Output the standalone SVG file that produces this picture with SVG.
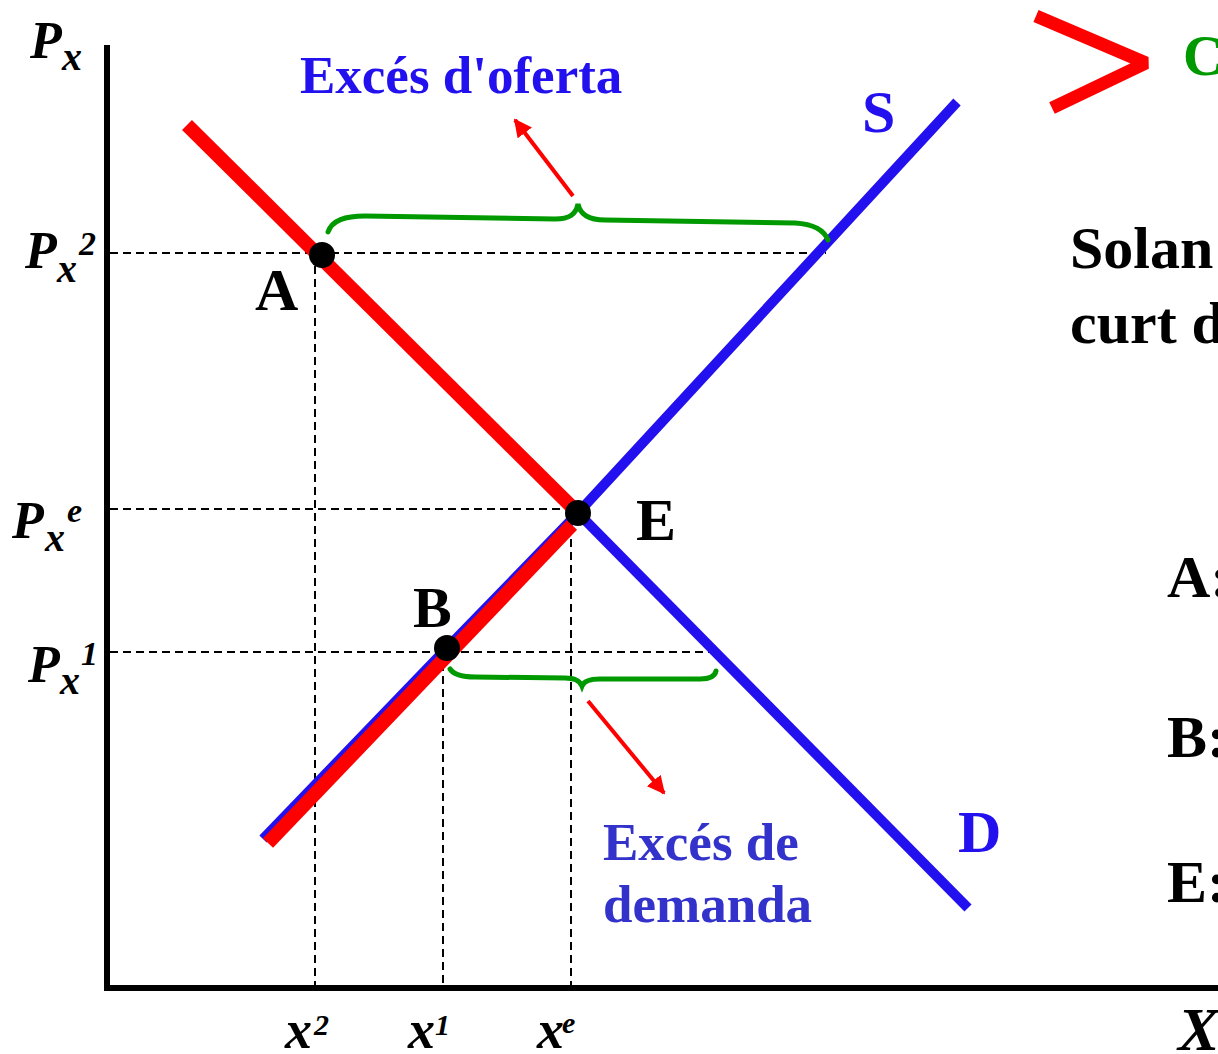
<svg xmlns="http://www.w3.org/2000/svg" width="1218" height="1054" viewBox="0 0 1218 1054">
<style>
.t{font-family:"Liberation Serif","Times New Roman",serif;font-weight:bold}
.i{font-style:italic}
.dash{stroke:#000;stroke-width:2;stroke-dasharray:8 5;fill:none}
.ax{stroke:#000;stroke-width:6;fill:none}
.red{stroke:#ff0000;fill:none}
.blue{stroke:#2211ee;fill:none}
.brace{stroke:#009900;stroke-width:5;fill:none;stroke-linecap:round}
.dot{fill:#000}
</style>
<defs>
<marker id="ah" viewBox="0 0 10 10" refX="9" refY="5" markerWidth="4.5" markerHeight="4.5" orient="auto" markerUnits="strokeWidth">
<path d="M0,0 L10,5 L0,10 Z" fill="#ff0000"/>
</marker>
</defs>
<rect width="1218" height="1054" fill="#fff"/>
<g id="guides">
<line class="dash" x1="110" y1="253" x2="826" y2="253"/>
<line class="dash" x1="110" y1="509" x2="578" y2="509"/>
<line class="dash" x1="110" y1="652" x2="716" y2="652"/>
<line class="dash" x1="315" y1="253" x2="315" y2="985"/>
<line class="dash" x1="443" y1="650" x2="443" y2="985"/>
<line class="dash" x1="571" y1="513" x2="571" y2="985"/>
</g>
<g id="axes">
<line class="ax" x1="107" y1="45" x2="107" y2="991"/>
<line class="ax" x1="104" y1="988" x2="1218" y2="988"/>
</g>
<g id="connectors">
<polyline class="blue" stroke-width="10" points="263,839 447,648 578,513 957,102"/>
<line class="red" stroke-width="14" x1="268" y1="843" x2="572" y2="525"/>
<line class="red" stroke-width="14" x1="187" y1="125" x2="578" y2="513"/>
<line class="blue" stroke-width="10" x1="578" y1="513" x2="968" y2="908"/>
<path class="brace" d="M328,232 C332,220 345,216 365,216 L555,219 C570,219 576,214 578,204 C580,214 588,220 605,220 L795,223 C812,224 824,230 828,240"/>
<path class="brace" d="M450,669 C454,675 462,677 475,677 L565,678 C575,678 580,681 582,686 C584,681 590,679 600,679 L700,679 C710,679 715,676 716,671"/>
<line class="red" stroke-width="4" x1="573" y1="196" x2="515" y2="120" marker-end="url(#ah)"/>
<line class="red" stroke-width="4" x1="588" y1="701" x2="664" y2="793" marker-end="url(#ah)"/>
<polyline class="red" stroke-width="13" stroke-linejoin="bevel" points="1036,16 1146,63 1052,108"/>
</g>
<g id="point-A"><circle class="dot" cx="322" cy="255" r="13"/><text class="t" x="255" y="310" font-size="60">A</text></g>
<g id="point-E"><circle class="dot" cx="578" cy="513" r="13"/><text class="t" x="636" y="540" font-size="60">E</text></g>
<g id="point-B"><circle class="dot" cx="447" cy="648" r="13"/><text class="t" x="413" y="627" font-size="58">B</text></g>
<g id="label-S"><text class="t" x="862" y="132" font-size="60" fill="#2211ee">S</text></g>
<g id="label-D"><text class="t" x="958" y="852" font-size="60" fill="#2211ee">D</text></g>
<g id="label-oferta"><text class="t" x="300" y="93" font-size="53" fill="#2211ee">Excés d'oferta</text></g>
<g id="label-demanda"><text class="t" font-size="53" fill="#3333cc"><tspan x="603" y="860">Excés de</tspan><tspan x="603" y="922">demanda</tspan></text></g>
<g id="y-labels">
<text class="t i" x="30" y="58" font-size="52">P</text><text class="t i" x="62" y="70" font-size="40">x</text>
<text class="t i" x="25" y="268" font-size="52">P</text><text class="t i" x="57" y="282" font-size="40">x</text><text class="t i" x="79" y="255" font-size="34">2</text>
<text class="t i" x="12" y="538" font-size="52">P</text><text class="t i" x="45" y="551" font-size="40">x</text><text class="t i" x="67" y="522" font-size="34">e</text>
<text class="t i" x="28" y="682" font-size="52">P</text><text class="t i" x="60" y="694" font-size="40">x</text><text class="t i" x="81" y="665" font-size="34">1</text>
</g>
<g id="x-labels">
<text class="t i" x="285" y="1048" font-size="54">x</text><text class="t i" x="314" y="1035" font-size="30">2</text>
<text class="t i" x="408" y="1048" font-size="54">x</text><text class="t i" x="435" y="1035" font-size="30">1</text>
<text class="t i" x="537" y="1048" font-size="54">x</text><text class="t i" x="562" y="1033" font-size="30">e</text>
<text class="t i" x="1178" y="1050" font-size="62">X</text>
</g>
<g id="side-text">
<text class="t" x="1183" y="75" font-size="56" fill="#009900">C</text>
<text class="t" x="1070" y="268" font-size="60">Solan</text>
<text class="t" x="1070" y="343" font-size="60">curt d</text>
<text class="t" x="1167" y="597" font-size="60">A:</text>
<text class="t" x="1167" y="757" font-size="60">B:</text>
<text class="t" x="1167" y="902" font-size="60">E:</text>
</g>
</svg>
